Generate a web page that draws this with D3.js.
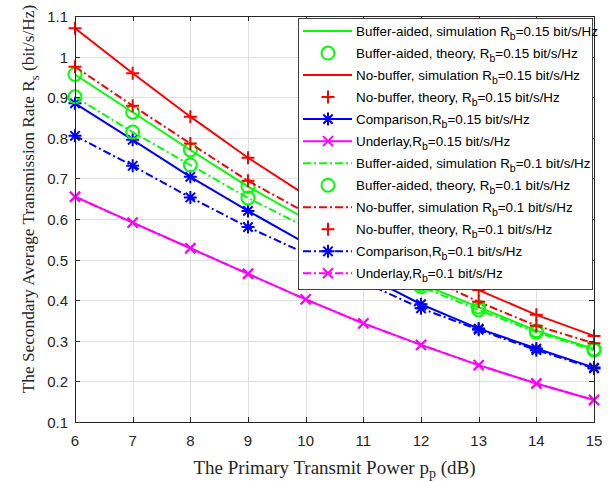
<!DOCTYPE html>
<html>
<head>
<meta charset="utf-8">
<script src="https://cdn.jsdelivr.net/npm/d3@7"></script>
<style>
  html, body { margin: 0; padding: 0; background: #fff; }
  svg { display: block; }
</style>
</head>
<body>
<svg id="chart" width="613" height="481"></svg>
<script>
// Primary transmit power (dB)
const pp = [6, 7, 8, 9, 10, 11, 12, 13, 14, 15];

// Secondary average transmission rate (bit/s/Hz)
const bufSim15 = [0.956, 0.863, 0.770, 0.680, 0.600, 0.520, 0.440, 0.383, 0.325, 0.280];
const bufThe15 = [0.956, 0.863, 0.770, 0.680, 0.600, 0.520, 0.440, 0.383, 0.325, 0.280];
const noSim15  = [1.070, 0.959, 0.852, 0.751, 0.659, 0.575, 0.495, 0.425, 0.364, 0.312];
const noThe15  = [1.070, 0.959, 0.852, 0.751, 0.659, 0.575, 0.495, 0.425, 0.364, 0.312];
const cmp15    = [0.885, 0.795, 0.704, 0.620, 0.540, 0.463, 0.390, 0.330, 0.281, 0.234];
const und15    = [0.655, 0.591, 0.528, 0.465, 0.402, 0.343, 0.290, 0.240, 0.195, 0.154];
const bufSim10 = [0.901, 0.814, 0.733, 0.652, 0.580, 0.505, 0.433, 0.376, 0.321, 0.277];
const bufThe10 = [0.901, 0.814, 0.733, 0.652, 0.580, 0.505, 0.433, 0.376, 0.321, 0.277];
const noSim10  = [0.975, 0.879, 0.786, 0.694, 0.616, 0.535, 0.463, 0.396, 0.337, 0.294];
const noThe10  = [0.975, 0.879, 0.786, 0.694, 0.616, 0.535, 0.463, 0.396, 0.337, 0.294];
const cmp10    = [0.805, 0.731, 0.653, 0.580, 0.515, 0.445, 0.380, 0.327, 0.277, 0.232];
const und10    = [0.655, 0.591, 0.528, 0.465, 0.402, 0.343, 0.290, 0.240, 0.195, 0.154];

const xTicks = [6, 7, 8, 9, 10, 11, 12, 13, 14, 15];
const yTicks = [0.1, 0.2, 0.3, 0.4, 0.5, 0.6, 0.7, 0.8, 0.9, 1, 1.1];

// Legend text pieces: [before subscript, subscript, after subscript]
const series = [
  { name: ["Buffer-aided, simulation R", "b", "=0.15 bit/s/Hz"], data: bufSim15, color: "#00ff00", line: "solid", marker: null },
  { name: ["Buffer-aided, theory, R", "b", "=0.15 bit/s/Hz"],    data: bufThe15, color: "#00ff00", line: null,    marker: "circle" },
  { name: ["No-buffer, simulation R", "b", "=0.15 bit/s/Hz"],    data: noSim15,  color: "#ff0000", line: "solid", marker: null },
  { name: ["No-buffer, theory, R", "b", "=0.15 bit/s/Hz"],       data: noThe15,  color: "#ff0000", line: null,    marker: "plus" },
  { name: ["Comparison,R", "b", "=0.15 bit/s/Hz"],               data: cmp15,    color: "#0000ff", line: "solid", marker: "star" },
  { name: ["Underlay,R", "b", "=0.15 bit/s/Hz"],                 data: und15,    color: "#ff00ff", line: "solid", marker: "cross" },
  { name: ["Buffer-aided, simulation R", "b", "=0.1 bit/s/Hz"],  data: bufSim10, color: "#00ff00", line: "dash",  marker: null },
  { name: ["Buffer-aided, theory, R", "b", "=0.1 bit/s/Hz"],     data: bufThe10, color: "#00ff00", line: null,    marker: "circle" },
  { name: ["No-buffer, simulation R", "b", "=0.1 bit/s/Hz"],     data: noSim10,  color: "#ff0000", line: "dash",  marker: null },
  { name: ["No-buffer, theory, R", "b", "=0.1 bit/s/Hz"],        data: noThe10,  color: "#ff0000", line: null,    marker: "plus" },
  { name: ["Comparison,R", "b", "=0.1 bit/s/Hz"],                data: cmp10,    color: "#0000ff", line: "dash",  marker: "star" },
  { name: ["Underlay,R", "b", "=0.1 bit/s/Hz"],                  data: und10,    color: "#ff00ff", line: "dash",  marker: "cross" }
];

const svg = d3.select("#chart");
const plot = { left: 75, right: 594, top: 16, bottom: 422 };
const axisColor = "#262626";
const dashPattern = "8,3,2,3";

const x = d3.scaleLinear().domain([6, 15]).range([plot.left, plot.right]);
const y = d3.scaleLinear().domain([0.1, 1.1]).range([plot.bottom, plot.top]);

// Grid
const grid = svg.append("g").attr("stroke", "#dfdfdf").attr("stroke-width", 1);
grid.selectAll(".gx").data(xTicks).join("line")
  .attr("x1", d => Math.round(x(d)) + 0.5).attr("x2", d => Math.round(x(d)) + 0.5)
  .attr("y1", plot.top).attr("y2", plot.bottom);
grid.selectAll(".gy").data(yTicks).join("line")
  .attr("y1", d => Math.round(y(d)) + 0.5).attr("y2", d => Math.round(y(d)) + 0.5)
  .attr("x1", plot.left).attr("x2", plot.right);

// Marker shapes
function markerPath(type, s) {
  const p = d3.path();
  if (type === "plus") {
    p.moveTo(-s, 0); p.lineTo(s, 0); p.moveTo(0, -s); p.lineTo(0, s);
  } else if (type === "cross") {
    p.moveTo(-s, -s); p.lineTo(s, s); p.moveTo(-s, s); p.lineTo(s, -s);
  } else if (type === "star") {
    const d = s * 0.72;
    p.moveTo(-s, 0); p.lineTo(s, 0); p.moveTo(0, -s); p.lineTo(0, s);
    p.moveTo(-d, -d); p.lineTo(d, d); p.moveTo(-d, d); p.lineTo(d, -d);
  } else if (type === "circle") {
    p.moveTo(s, 0); p.arc(0, 0, s, 0, 2 * Math.PI);
  }
  return p.toString();
}
const markerSize = { plus: 6.5, cross: 5, star: 6.5, circle: 6.5 };

const lineGen = d3.line().x((d, i) => x(pp[i])).y(d => y(d));

const dataLayer = svg.append("g");
series.forEach(s => {
  if (s.line) {
    dataLayer.append("path")
      .attr("d", lineGen(s.data))
      .attr("fill", "none")
      .attr("stroke", s.color)
      .attr("stroke-width", 2)
      .attr("stroke-dasharray", s.line === "dash" ? dashPattern : null);
  }
  if (s.marker) {
    dataLayer.selectAll(null).data(s.data).join("path")
      .attr("transform", (d, i) => `translate(${x(pp[i])},${y(d)})`)
      .attr("d", markerPath(s.marker, markerSize[s.marker]))
      .attr("fill", "none")
      .attr("stroke", s.color)
      .attr("stroke-width", 2);
  }
});

// Axes (box with inward ticks on all sides)
const axes = svg.append("g").attr("font-family", "'Liberation Sans', Arial, sans-serif").attr("font-size", 15).attr("fill", axisColor);
axes.append("rect")
  .attr("x", plot.left + 0.5).attr("y", plot.top + 0.5)
  .attr("width", plot.right - plot.left).attr("height", plot.bottom - plot.top)
  .attr("fill", "none").attr("stroke", axisColor).attr("stroke-width", 1);

const tickLen = 5;
xTicks.forEach(t => {
  const px = Math.round(x(t)) + 0.5;
  axes.append("line").attr("x1", px).attr("x2", px).attr("y1", plot.bottom).attr("y2", plot.bottom - tickLen).attr("stroke", axisColor);
  axes.append("line").attr("x1", px).attr("x2", px).attr("y1", plot.top).attr("y2", plot.top + tickLen).attr("stroke", axisColor);
  axes.append("text").attr("x", x(t)).attr("y", 446).attr("text-anchor", "middle").text(t);
});
yTicks.forEach(t => {
  const py = Math.round(y(t)) + 0.5;
  axes.append("line").attr("y1", py).attr("y2", py).attr("x1", plot.left).attr("x2", plot.left + tickLen).attr("stroke", axisColor);
  axes.append("line").attr("y1", py).attr("y2", py).attr("x1", plot.right).attr("x2", plot.right - tickLen).attr("stroke", axisColor);
  axes.append("text").attr("x", 68).attr("y", y(t) + 6).attr("text-anchor", "end").text(d3.format("~g")(t));
});

// Axis titles
const serif = "'Liberation Serif', 'Times New Roman', serif";
const xTitle = svg.append("text")
  .attr("x", (plot.left + plot.right) / 2).attr("y", 474)
  .attr("text-anchor", "middle")
  .attr("font-family", serif).attr("font-size", 19).attr("fill", axisColor);
xTitle.append("tspan").text("The Primary Transmit Power p");
xTitle.append("tspan").attr("dy", 4).attr("font-size", 14).text("p");
xTitle.append("tspan").attr("dy", -4).text(" (dB)");

const yTitle = svg.append("text")
  .attr("transform", "translate(34,199) rotate(-90)")
  .attr("text-anchor", "middle")
  .attr("font-family", serif).attr("font-size", 17.3).attr("fill", axisColor);
yTitle.append("tspan").text("The Secondary Average Transmission Rate R");
yTitle.append("tspan").attr("dy", 5).attr("font-size", 12.5).text("s");
yTitle.append("tspan").attr("dy", -5).text("  (bit/s/Hz)");

// Legend
const leg = { left: 298, right: 592, top: 18, bottom: 289, row0: 31, step: 22.03 };
const legend = svg.append("g");
legend.append("rect")
  .attr("x", leg.left + 0.5).attr("y", leg.top + 0.5)
  .attr("width", leg.right - leg.left).attr("height", leg.bottom - leg.top)
  .attr("fill", "#fff").attr("stroke", "#404040").attr("stroke-width", 1);

series.forEach((s, i) => {
  const cy = leg.row0 + i * leg.step;
  const g = legend.append("g");
  if (s.line) {
    g.append("line").attr("x1", 303).attr("x2", 352).attr("y1", cy).attr("y2", cy)
      .attr("stroke", s.color).attr("stroke-width", 2)
      .attr("stroke-dasharray", s.line === "dash" ? dashPattern : null);
  }
  if (s.marker) {
    g.append("path").attr("transform", `translate(328,${cy})`)
      .attr("d", markerPath(s.marker, markerSize[s.marker]))
      .attr("fill", "none").attr("stroke", s.color).attr("stroke-width", 2);
  }
  const t = g.append("text").attr("x", 356).attr("y", cy + 4.5)
    .attr("font-family", "'Liberation Sans', Arial, sans-serif").attr("font-size", 13.4).attr("fill", "#000");
  t.append("tspan").text(s.name[0]);
  t.append("tspan").attr("dy", 4).attr("font-size", 10.5).text(s.name[1]);
  t.append("tspan").attr("dy", -4).text(s.name[2]);
});
</script>
</body>
</html>
